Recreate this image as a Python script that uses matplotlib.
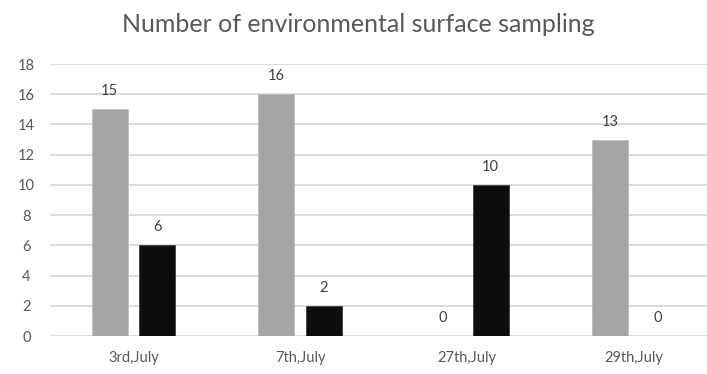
import matplotlib
matplotlib.use("Agg")
import matplotlib.pyplot as plt
import numpy as np

categories = ["3rd,July", "7th,July", "27th,July", "29th,July"]
series_a = [15, 16, 0, 13]
series_b = [6, 2, 10, 0]
yticks = [0, 2, 4, 6, 8, 10, 12, 14, 16, 18]

plt.rcParams['font.family'] = ['Lato', 'DejaVu Sans']
txt = '#595959'

fig = plt.figure(figsize=(7.07, 3.74), dpi=100)
ax = fig.add_axes([50/707, 38/374, 657/707, 272/374])

x = np.arange(len(categories))
w = 0.216
off = 0.142
ba = ax.bar(x - off, series_a, w, color='#a5a5a5', edgecolor='#bfbfbf', linewidth=0.6, zorder=3)
bb = ax.bar(x + off, series_b, w, color='#0d0d0d', edgecolor='#404040', linewidth=0.6, zorder=3)

for bars, vals in ((ba, series_a), (bb, series_b)):
    for r, v in zip(bars, vals):
        ax.annotate(str(v), (r.get_x() + r.get_width()/2, v), xytext=(0, 13),
                    textcoords='offset points', ha='center', va='center',
                    fontsize=10.5, color='#404040')

ax.set_xlim(-0.5, 3.44)
ax.set_ylim(0, 18)
ax.set_yticks(yticks)
ax.set_xticks(x)
ax.set_xticklabels(categories)
ax.grid(axis='y', color='#d9d9d9', linewidth=1.3, zorder=0)
ax.set_axisbelow(True)
for s in ax.spines.values():
    s.set_visible(False)
ax.tick_params(axis='both', length=0, labelsize=10.5, labelcolor=txt)
ax.tick_params(axis='x', pad=11)
ax.tick_params(axis='y', pad=17)
for lbl in ax.get_yticklabels():
    lbl.set_horizontalalignment('center')

fig.text(358/707, 1 - 24/374, "Number of environmental surface sampling",
         ha='center', va='center', fontsize=18, color=txt)

fig.savefig("out.png", dpi=100)
